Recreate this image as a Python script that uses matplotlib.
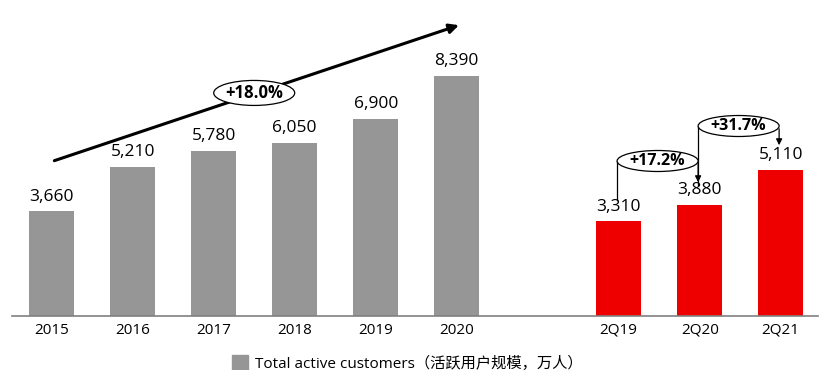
import numpy as np
import matplotlib
matplotlib.use("Agg")
from matplotlib import pyplot as plt
from matplotlib.patches import Ellipse

## annual + quarterly active customers (10k)
years = ['2015', '2016', '2017', '2018', '2019', '2020']
year_vals = [3660, 5210, 5780, 6050, 6900, 8390]
quarters = ['2Q19', '2Q20', '2Q21']
quarter_vals = [3310, 3880, 5110]
growth_labels = ['+18.0%', '+17.2%', '+31.7%']
legend_label = 'Total active customers（活跃用户规模，万人）'

plt.rcParams['font.family'] = ['Open Sans', 'Noto Sans CJK SC', 'DejaVu Sans']

fig = plt.figure(figsize=(8.31, 3.70), dpi=100)
ax = fig.add_axes([12/831, 54/370, 806/831, 316/370])

xy = np.arange(len(years))
xq = np.arange(len(quarters)) + len(years) + 1
w = 0.55
ax.bar(xy, year_vals, width=w, color='#969696')
ax.bar(xq, quarter_vals, width=w, color='#ee0000')

for x, v in zip(list(xy) + list(xq), year_vals + quarter_vals):
    ax.text(x, v + 230, f'{v:,}', ha='center', va='bottom', fontsize=12.5)

ax.set_xlim(-0.49, 9.46)
ax.set_ylim(0, 11050)
ax.set_xticks(list(xy) + list(xq))
ax.set_xticklabels(years + quarters, fontsize=11)
ax.tick_params(axis='x', length=0, pad=5)
ax.set_yticks([])
for s in ['top', 'right', 'left']:
    ax.spines[s].set_visible(False)
ax.spines['bottom'].set_color('#808080')
ax.spines['bottom'].set_linewidth(1.2)

# big trend arrow over annual bars
ax.annotate('', xy=(5.06, 10200), xytext=(0, 5400),
            arrowprops=dict(arrowstyle='-|>', color='black', lw=2.2,
                            mutation_scale=14))

ypx = 11050 / 316.0

def bubble(cx, cy, bw, bh, text, fs):
    e = Ellipse((cx, cy), bw, bh, facecolor='white', edgecolor='black',
                lw=0.9, zorder=5)
    ax.add_patch(e)
    ax.text(cx, cy, text, ha='center', va='center', fontsize=fs,
            fontweight='bold', zorder=6)

bubble(2.5, 7800, 1.0, 25 * ypx, growth_labels[0], 12)

# yoy bubbles for quarters
for i, (c, top_l, top_r, cy) in enumerate([(0, 200, 185, 161), (1, 185, 148, 126)]):
    x0 = xq[c] - 0.02
    x1 = xq[c + 1] - 0.02
    yc = (316 - cy) * ypx
    yl = (316 - top_l) * ypx
    yr = (316 - top_r) * ypx
    ax.plot([x0, x0], [yc, yl], color='black', lw=0.9, zorder=4)
    ax.annotate('', xy=(x1, yr), xytext=(x1, yc),
                arrowprops=dict(arrowstyle='-|>', color='black', lw=0.9,
                                mutation_scale=9), zorder=4)
    bubble((x0 + x1) / 2, yc, x1 - x0, 21 * ypx, growth_labels[i + 1], 11.5)

ax.legend([plt.Rectangle((0, 0), 1, 1, color='#969696')], [legend_label],
          loc='upper center', bbox_to_anchor=(0.49, -0.08), frameon=False,
          fontsize=11, handlelength=1.1, handleheight=1.1, handletextpad=0.4)

fig.savefig('out.png', dpi=100)
